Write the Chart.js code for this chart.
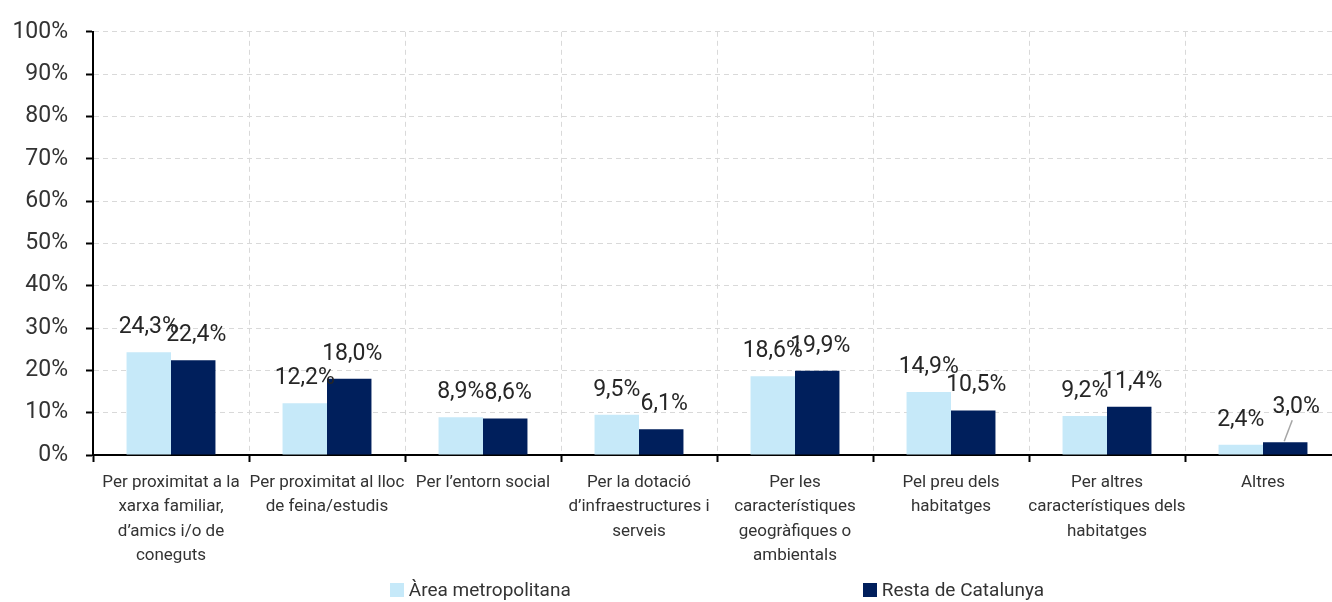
<!DOCTYPE html>
<html>
<head>
<meta charset="utf-8">
<script src="https://cdn.jsdelivr.net/npm/chart.js@4/dist/chart.umd.min.js"></script>
<style>
  html, body { margin: 0; padding: 0; background: #fff; overflow: hidden; }
  #wrap { position: relative; width: 1342px; height: 602px; }
  #legenda {
    position: absolute; left: 93px; width: 1248px; top: 578px;
    display: flex; justify-content: center; gap: 292px;
    font-family: Roboto, sans-serif;
    font-size: 19px; color: #333;
  }
  #legenda span.item { display: flex; align-items: center; }
  #legenda span.caixa { display: inline-block; width: 14px; height: 14px; margin-right: 5px; }
</style>
</head>
<body>
<div id="wrap">
  <canvas id="grafic" width="1342" height="602"></canvas>
  <div id="legenda"></div>
</div>
<script>
// Dades del gràfic
const categories = [
  ['Per proximitat a la', 'xarxa familiar,', 'd\u2019amics i/o de', 'coneguts'],
  ['Per proximitat al lloc', 'de feina/estudis'],
  ['Per l\u2019entorn social'],
  ['Per la dotació', 'd\u2019infraestructures i', 'serveis'],
  ['Per les', 'característiques', 'geogràfiques o', 'ambientals'],
  ['Pel preu dels', 'habitatges'],
  ['Per altres', 'característiques dels', 'habitatges'],
  ['Altres']
];
const nomsSeries = ['Àrea metropolitana', 'Resta de Catalunya'];
const areaMetropolitana = [24.3, 12.2, 8.9, 9.5, 18.6, 14.9, 9.2, 2.4];
const restaCatalunya = [22.4, 18.0, 8.6, 6.1, 19.9, 10.5, 11.4, 3.0];
const colors = ['#C6E9F9', '#001F5C'];

const FONT = "Roboto, sans-serif";

function formatPct(v) {
  return v.toFixed(1).replace('.', ',') + '%';
}

// Etiquetes de dades sobre les barres (l'última de "Resta" va desplaçada amb línia guia, com a l'original)
const etiquetesPlugin = {
  id: 'etiquetes',
  afterDatasetsDraw(chart) {
    const ctx = chart.ctx;
    ctx.save();
    ctx.font = '23px ' + FONT;
    ctx.textAlign = 'center';
    ctx.textBaseline = 'middle';
    chart.data.datasets.forEach((ds, i) => {
      const meta = chart.getDatasetMeta(i);
      meta.data.forEach((bar, j) => {
        let x = bar.x + (i === 0 ? 0 : 3);
        let y = bar.y - 25;
        if (i === 1 && j === ds.data.length - 1) {
          x = bar.x + 11;
          y = bar.y - 35;
          ctx.strokeStyle = '#a6a6a6';
          ctx.lineWidth = 1.5;
          ctx.beginPath();
          ctx.moveTo(x - 4, y + 13);
          ctx.lineTo(bar.x - 1, bar.y - 1);
          ctx.stroke();
        }
        ctx.fillStyle = '#262626';
        ctx.fillText(formatPct(ds.data[j]), x, y);
      });
    });
    ctx.restore();
  }
};

const graella = {
  color: '#d9d9d9',
  lineWidth: 1,
  tickColor: '#000',
  tickLength: 7,
  tickBorderDash: [],
  tickWidth: 2
};

const ctx = document.getElementById('grafic').getContext('2d');
new Chart(ctx, {
  type: 'bar',
  data: {
    labels: categories,
    datasets: [
      { label: nomsSeries[0], data: areaMetropolitana, backgroundColor: colors[0] },
      { label: nomsSeries[1], data: restaCatalunya, backgroundColor: colors[1] }
    ]
  },
  options: {
    responsive: false,
    animation: false,
    layout: { padding: { top: 28, right: 1, bottom: 30, left: 0 } },
    categoryPercentage: 0.57,
    barPercentage: 1.0,
    plugins: {
      legend: { display: false },
      tooltip: { enabled: false }
    },
    scales: {
      x: {
        grid: graella,
        border: { color: '#000', width: 2, dash: [5, 4] },
        ticks: {
          color: '#333',
          font: { family: FONT, size: 17, lineHeight: 1.42 },
          padding: 9,
          maxRotation: 0,
          autoSkip: false
        },
        afterFit(scale) { scale.height = 117; }
      },
      y: {
        min: 0,
        max: 100,
        grid: graella,
        border: { color: '#000', width: 2, dash: [5, 4] },
        ticks: {
          stepSize: 10,
          color: '#333',
          font: { family: FONT, size: 23 },
          padding: 18,
          callback: v => v + '%'
        },
        afterFit(scale) { scale.width = 93; }
      }
    }
  },
  plugins: [etiquetesPlugin]
});

// Llegenda HTML
const legenda = document.getElementById('legenda');
nomsSeries.forEach((nom, i) => {
  const item = document.createElement('span');
  item.className = 'item';
  const caixa = document.createElement('span');
  caixa.className = 'caixa';
  caixa.style.background = colors[i];
  item.appendChild(caixa);
  item.appendChild(document.createTextNode(nom));
  legenda.appendChild(item);
});
</script>
</body>
</html>
